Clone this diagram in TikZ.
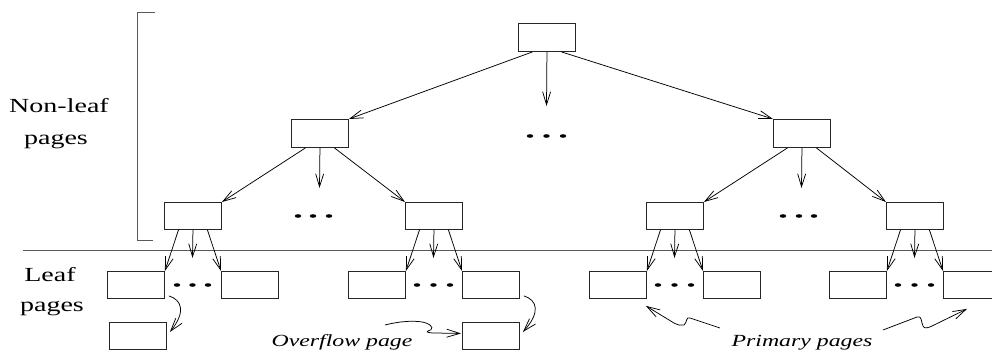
\documentclass[tikz,border=0pt]{standalone}
\usepackage{fontspec}
\usepackage{graphicx}
\setmainfont{Liberation Serif}
\usetikzlibrary{arrows.meta,calc}
\newcommand{\widetxt}[1]{\scalebox{1.4}[1]{#1}}
\begin{document}
\begin{tikzpicture}[x=1pt,y=-1pt,
  pg/.style={draw=black!85, line width=0.9pt, minimum width=57pt, minimum height=27pt, inner sep=0pt, anchor=north west},
  pgtall/.style={pg, minimum height=28pt},
  arr/.style={draw=black, line width=0.75pt, -{Straight Barb[length=13pt,width=8pt,line width=0.75pt]}},
  lbl/.style={font=\fontsize{20}{24}\selectfont, anchor=base, inner sep=0pt},
  ital/.style={font=\fontsize{17}{20}\selectfont\itshape, anchor=base, inner sep=0pt},
  rulegray/.style={draw=black!65, line width=0.9pt},
  dotfill/.style={fill=black}]
\useasboundingbox (0,0) rectangle (992,353);

% labels
\node[lbl] (nl1) at (59,112) {\widetxt{Non-leaf}};
\node[lbl] (nl2) at (56,144) {\widetxt{pages}};
\node[lbl] (lf1) at (50,281) {\widetxt{Leaf}};
\node[lbl] (lf2) at (52,311) {\widetxt{pages}};
\node[ital] (ovt) at (342,346) {\widetxt{Overflow page}};
\node[ital] (prt) at (802,346) {\widetxt{Primary pages}};

% bracket and separator
\draw[rulegray] (155,12) -- (137.5,12) -- (137.5,240.5) -- (153,240.5);
\draw[rulegray] (23,250) -- (992,250);

% boxes
\node[pgtall] (r) at (518,23) {};
\node[pgtall] (a) at (291,119) {};
\node[pgtall] (b) at (773,119) {};
\node[pg] (c1) at (164,202) {};
\node[pg] (c2) at (405,202) {};
\node[pg] (c3) at (646,202) {};
\node[pg] (c4) at (886,202) {};
\node[pg] (l1) at (107,271) {};
\node[pg] (l2) at (221,271) {};
\node[pg] (l3) at (348,271) {};
\node[pg] (l4) at (462,271) {};
\node[pg] (l5) at (589,271) {};
\node[pg] (l6) at (703,271) {};
\node[pg] (l7) at (829,271) {};
\node[pg] (l8) at (943,271) {};
\node[pg] (o1) at (109,322) {};
\node[pg] (o2) at (462,322) {};

% free ends of the middle arrows
\coordinate (rm) at (546.5,106);
\coordinate (am) at (319.5,188);
\coordinate (bm) at (801.5,188);
\coordinate (c1m) at (192.5,258);
\coordinate (c2m) at (433.5,258);
\coordinate (c3m) at (674.5,258);
\coordinate (c4m) at (914.5,258);

% tree arrows
\draw[arr] ($(r.south west)!0.25!(r.south east)$) -- (a.north east);
\draw[arr] (r.south) -- (rm);
\draw[arr] ($(r.south west)!0.75!(r.south east)$) -- (b.north west);

\draw[arr] ($(a.south west)!0.25!(a.south east)$) -- (c1.north east);
\draw[arr] (a.south) -- (am);
\draw[arr] ($(a.south west)!0.75!(a.south east)$) -- (c2.north west);

\draw[arr] ($(b.south west)!0.25!(b.south east)$) -- (c3.north east);
\draw[arr] (b.south) -- (bm);
\draw[arr] ($(b.south west)!0.75!(b.south east)$) -- (c4.north west);

\draw[arr] ($(c1.south west)!0.25!(c1.south east)$) -- (l1.north east);
\draw[arr] (c1.south) -- (c1m);
\draw[arr] ($(c1.south west)!0.75!(c1.south east)$) -- (l2.north west);

\draw[arr] ($(c2.south west)!0.25!(c2.south east)$) -- (l3.north east);
\draw[arr] (c2.south) -- (c2m);
\draw[arr] ($(c2.south west)!0.75!(c2.south east)$) -- (l4.north west);

\draw[arr] ($(c3.south west)!0.25!(c3.south east)$) -- (l5.north east);
\draw[arr] (c3.south) -- (c3m);
\draw[arr] ($(c3.south west)!0.75!(c3.south east)$) -- (l6.north west);

\draw[arr] ($(c4.south west)!0.25!(c4.south east)$) -- (l7.north east);
\draw[arr] (c4.south) -- (c4m);
\draw[arr] ($(c4.south west)!0.75!(c4.south east)$) -- (l8.north west);

% dots
\foreach \x/\y in {530/136,546.5/136,563/136,
                   298/216,313/216,329/216,
                   783/216,799/216,814/216,
                   177/285,192.5/285,208/285,
                   417/285,433.5/285,450/285,
                   658/285,674.5/285,691/285,
                   898/285,914.5/285,931/285}
  \fill[dotfill] (\x,\y) ellipse [x radius=3.2, y radius=1.8];

% overflow links
\draw[arr] ([shift={(4,-3)}]l1.south east) .. controls (182,300) and (186,312) .. ([shift={(3,-4)}]o1.east);
\draw[arr] ([shift={(4,-3)}]l4.south east) .. controls (537,300) and (541,312) .. ([shift={(3,-4)}]o2.east);

% squiggly pointers
\coordinate (ovs) at (385,325);
\coordinate (pls) at (720,328);
\coordinate (prs) at (883,330);
\draw[arr] (ovs) .. controls (400,321) and (418,320) .. (426,323)
  .. controls (434,326) and (433,330) .. (428,331)
  .. controls (426,332) and (428,333) .. (435,333)
  -- ([shift={(-1,-2.5)}]o2.west);
\draw[arr] (pls) -- (690,318) .. controls (686,316) and (687,323) .. (684,325)
  .. controls (681,326) and (678,325) .. (674,323)
  -- ([shift={(-1,7)}]l5.south east);
\draw[arr] (prs) -- (917,317) .. controls (922,315) and (921,322) .. (923,326)
  .. controls (924,329) and (928,328) .. (932,326)
  -- ([shift={(24,10)}]l8.south west);
\end{tikzpicture}
\end{document}
